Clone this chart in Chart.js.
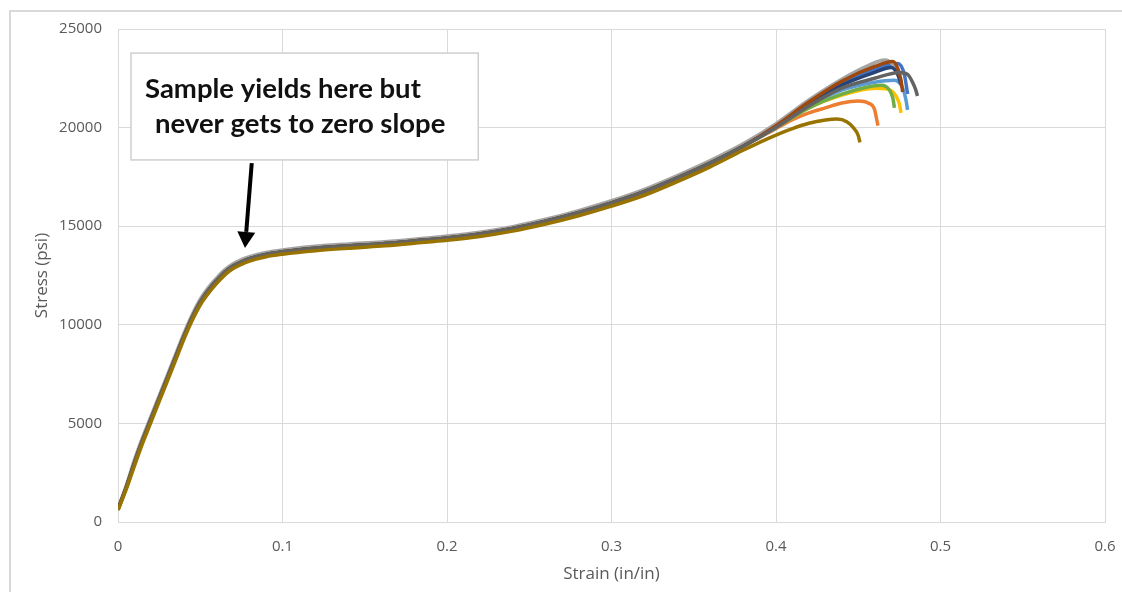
<!DOCTYPE html>
<html>
<head>
<meta charset="utf-8">
<title>Stress vs Strain</title>
<script src="https://cdn.jsdelivr.net/npm/chart.js@4.4.1/dist/chart.umd.min.js"></script>
<style>
  html, body { margin: 0; padding: 0; background: #fff; overflow: hidden; }
  #frame {
    position: absolute; left: 9px; top: 10px; width: 1300px; height: 800px;
    border-left: 2px solid #d9d9d9; border-top: 2px solid #d9d9d9;
  }
  #wrap { position: absolute; left: 0; top: 0; width: 1122px; height: 592px; }
</style>
</head>
<body>
<div id="frame"></div>
<div id="wrap"><canvas id="chart"></canvas></div>
<script>
// --- DATA ---
const X_TICKS = [0, 0.1, 0.2, 0.3, 0.4, 0.5, 0.6];
const Y_TICKS = [0, 5000, 10000, 15000, 20000, 25000];

// shared strain points for the part where all samples overlap
const STRAIN_BASE = [0, 0.005, 0.01, 0.015, 0.02, 0.025, 0.03, 0.035, 0.04, 0.045, 0.05,
  0.055, 0.06, 0.065, 0.07, 0.075, 0.08, 0.09, 0.10, 0.12, 0.14, 0.16, 0.18, 0.20,
  0.22, 0.24, 0.26, 0.28, 0.30, 0.32, 0.34, 0.36, 0.38];

// top, middle and bottom edge of the overlapping band (psi)
const STRESS_UPPER = [700, 1850, 3150, 4300, 5350, 6400, 7450, 8500, 9550, 10500,
  11300, 11900, 12380, 12800, 13100, 13300, 13460, 13670, 13800, 13980, 14100, 14200,
  14340, 14500, 14700, 14980, 15350, 15790, 16290, 16870, 17570, 18330, 19180];
const STRESS_MID = [650, 1750, 3000, 4150, 5200, 6250, 7300, 8350, 9400, 10350,
  11150, 11750, 12250, 12680, 12980, 13180, 13350, 13570, 13700, 13880, 14000, 14100,
  14250, 14400, 14600, 14880, 15250, 15680, 16180, 16750, 17450, 18200, 19050];
const STRESS_LOWER = [600, 1650, 2850, 4000, 5050, 6100, 7150, 8200, 9250, 10200,
  11000, 11600, 12100, 12530, 12850, 13060, 13230, 13450, 13580, 13760, 13880, 13990,
  14140, 14290, 14480, 14750, 15110, 15530, 16020, 16570, 17260, 18010, 18850];

// the end of each sample, where the curves split up
const TAIL_STRAIN_1 = [0.40, 0.42, 0.44, 0.46, 0.474, 0.478, 0.48];
const TAIL_STRESS_1 = [20050, 21250, 22250, 22950, 23250, 22700, 21700];
const TAIL_STRAIN_2 = [0.40, 0.41, 0.42, 0.43, 0.44, 0.45, 0.456, 0.46, 0.461, 0.462];
const TAIL_STRESS_2 = [19950, 20400, 20750, 21000, 21250, 21350, 21250, 20900, 20500, 20100];
const TAIL_STRAIN_3 = [0.40, 0.42, 0.44, 0.455, 0.466, 0.471, 0.474];
const TAIL_STRESS_3 = [20200, 21400, 22450, 23100, 23430, 23200, 22700];
const TAIL_STRAIN_4 = [0.40, 0.42, 0.44, 0.46, 0.468, 0.473, 0.475, 0.476];
const TAIL_STRESS_4 = [20000, 21000, 21650, 22000, 21950, 21600, 21200, 20750];
const TAIL_STRAIN_5 = [0.40, 0.42, 0.44, 0.46, 0.472, 0.477, 0.479, 0.48];
const TAIL_STRESS_5 = [20000, 21100, 21900, 22300, 22400, 22000, 21400, 20900];
const TAIL_STRAIN_6 = [0.40, 0.42, 0.44, 0.455, 0.464, 0.469, 0.471, 0.472];
const TAIL_STRESS_6 = [20000, 21000, 21700, 22050, 22150, 21900, 21500, 21000];
const TAIL_STRAIN_7 = [0.40, 0.42, 0.44, 0.46, 0.47, 0.474, 0.476];
const TAIL_STRESS_7 = [20050, 21200, 22150, 22800, 23050, 22700, 22200];
const TAIL_STRAIN_8 = [0.40, 0.42, 0.44, 0.46, 0.471, 0.474, 0.476, 0.477];
const TAIL_STRESS_8 = [20100, 21300, 22350, 23100, 23350, 23000, 22400, 21800];
const TAIL_STRAIN_9 = [0.40, 0.42, 0.44, 0.46, 0.475, 0.48, 0.483, 0.485, 0.486];
const TAIL_STRESS_9 = [20000, 21100, 22000, 22500, 22800, 22700, 22300, 21900, 21600];
const TAIL_STRAIN_10 = [0.39, 0.40, 0.41, 0.42, 0.43, 0.437, 0.443, 0.447, 0.45, 0.451];
const TAIL_STRESS_10 = [19250, 19620, 19950, 20220, 20380, 20430, 20300, 20000, 19600, 19250];

// Excel default palette, series 1..10
const COLORS = ['#4472C4', '#ED7D31', '#A5A5A5', '#FFC000', '#5B9BD5',
  '#70AD47', '#264478', '#9E480E', '#636363', '#997300'];

const SERIES = [
  [STRESS_MID, TAIL_STRAIN_1, TAIL_STRESS_1],
  [STRESS_MID, TAIL_STRAIN_2, TAIL_STRESS_2],
  [STRESS_UPPER, TAIL_STRAIN_3, TAIL_STRESS_3],
  [STRESS_MID, TAIL_STRAIN_4, TAIL_STRESS_4],
  [STRESS_MID, TAIL_STRAIN_5, TAIL_STRESS_5],
  [STRESS_MID, TAIL_STRAIN_6, TAIL_STRESS_6],
  [STRESS_MID, TAIL_STRAIN_7, TAIL_STRESS_7],
  [STRESS_MID, TAIL_STRAIN_8, TAIL_STRESS_8],
  [STRESS_MID, TAIL_STRAIN_9, TAIL_STRESS_9],
  [STRESS_LOWER, TAIL_STRAIN_10, TAIL_STRESS_10]
];

// annotation, in data units
const NOTE_LINES = ['Sample yields here but', 'never gets to zero slope'];
const NOTE_BOX = { x0: 0.0079, x1: 0.219, y0: 23780, y1: 18360 };
const NOTE_ARROW = { x0: 0.0813, y0: 18200, x1: 0.0772, y1: 13900 };

const GRID = '#d9d9d9';
const LABEL = '#595959';

const toPoints = (xs, ys) => xs.map((v, i) => ({ x: v, y: ys[i] }));

const datasets = SERIES.map(([base, tx, ty], i) => {
  // series 10 starts its own tail a bit earlier
  const baseStrain = STRAIN_BASE.filter(s => s < tx[0]);
  return {
    data: toPoints(baseStrain, base).concat(toPoints(tx, ty)),
    borderColor: COLORS[i],
    backgroundColor: COLORS[i],
    borderWidth: 3.5,
    pointRadius: 0,
    fill: false,
    cubicInterpolationMode: 'monotone',
    order: SERIES.length - i   // later series are drawn on top, like Excel
  };
});

// --- callout box + arrow ---
const notePlugin = {
  id: 'yieldNote',
  afterDatasetsDraw(chart) {
    const { ctx, scales: { x, y } } = chart;
    const bx0 = x.getPixelForValue(NOTE_BOX.x0), bx1 = x.getPixelForValue(NOTE_BOX.x1);
    const by0 = y.getPixelForValue(NOTE_BOX.y0), by1 = y.getPixelForValue(NOTE_BOX.y1);
    ctx.save();
    ctx.fillStyle = '#fff';
    ctx.fillRect(bx0, by0, bx1 - bx0, by1 - by0);
    ctx.strokeStyle = '#cfcfcf';
    ctx.lineWidth = 1.5;
    ctx.strokeRect(bx0, by0, bx1 - bx0, by1 - by0);

    ctx.fillStyle = '#111';
    ctx.font = 'bold 27.5px Lato';
    ctx.textBaseline = 'alphabetic';
    ctx.fillText(NOTE_LINES[0], bx0 + 14, by0 + 45);
    ctx.fillText(NOTE_LINES[1], bx0 + 24, by0 + 79.5);

    // arrow
    const ax0 = x.getPixelForValue(NOTE_ARROW.x0), ay0 = y.getPixelForValue(NOTE_ARROW.y0);
    const ax1 = x.getPixelForValue(NOTE_ARROW.x1), ay1 = y.getPixelForValue(NOTE_ARROW.y1);
    const ang = Math.atan2(ay1 - ay0, ax1 - ax0);
    const headLen = 16, headW = 9;
    const hx = ax1 - headLen * Math.cos(ang), hy = ay1 - headLen * Math.sin(ang);
    ctx.strokeStyle = '#000';
    ctx.lineWidth = 4;
    ctx.beginPath();
    ctx.moveTo(ax0, ay0);
    ctx.lineTo(hx, hy);
    ctx.stroke();
    ctx.fillStyle = '#000';
    ctx.beginPath();
    ctx.moveTo(ax1, ay1);
    ctx.lineTo(hx + headW * Math.sin(ang), hy - headW * Math.cos(ang));
    ctx.lineTo(hx - headW * Math.sin(ang), hy + headW * Math.cos(ang));
    ctx.closePath();
    ctx.fill();
    ctx.restore();
  }
};

const ctx = document.getElementById('chart').getContext('2d');
new Chart(ctx, {
  type: 'line',
  data: { datasets },
  plugins: [notePlugin],
  options: {
    responsive: true,
    maintainAspectRatio: false,
    animation: false,
    layout: { padding: { top: 29, right: 17, left: 0, bottom: 0 } },
    plugins: { legend: { display: false }, tooltip: { enabled: false } },
    scales: {
      x: {
        type: 'linear',
        min: 0,
        max: 0.6,
        afterBuildTicks: s => { s.ticks = X_TICKS.map(v => ({ value: v })); },
        // fixed band height, and no extra room for the end labels
        afterFit: s => { s.height = 70; s.paddingLeft = 0; s.paddingRight = 0; },
        ticks: {
          color: LABEL,
          font: { family: 'Open Sans', size: 15 },
          padding: 16,
          callback: v => String(v)
        },
        grid: { color: GRID, drawTicks: false },
        border: { color: GRID },
        title: {
          display: true,
          text: 'Strain (in/in)',
          color: LABEL,
          font: { family: 'Open Sans', size: 17 },
          padding: { top: 0, bottom: 8 }
        }
      },
      y: {
        type: 'linear',
        min: 0,
        max: 25000,
        afterBuildTicks: s => { s.ticks = Y_TICKS.map(v => ({ value: v })); },
        afterFit: s => { s.width = 118; s.paddingTop = 0; s.paddingBottom = 0; },
        ticks: {
          color: LABEL,
          font: { family: 'Open Sans', size: 15 },
          padding: 16,
          callback: v => String(v)
        },
        grid: { color: GRID, drawTicks: false },
        border: { color: GRID },
        title: {
          display: true,
          text: 'Stress (psi)',
          color: LABEL,
          font: { family: 'Open Sans', size: 17 },
          padding: { top: 32, bottom: 0 }
        }
      }
    }
  }
});
</script>
</body>
</html>
